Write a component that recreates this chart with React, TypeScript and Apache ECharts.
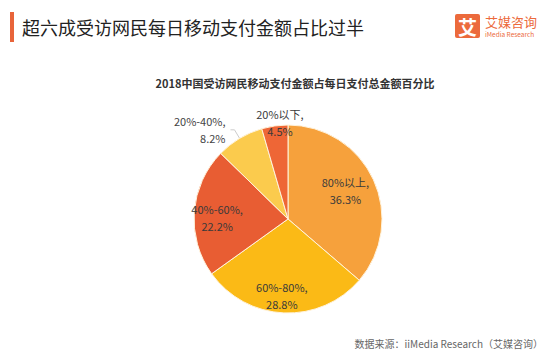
import React, { useEffect, useRef } from "react";
import * as echarts from "echarts";

const categories = ["80%以上", "60%-80%", "40%-60%", "20%-40%", "20%以下"];
const values = [36.3, 28.8, 22.2, 8.2, 4.5];
const colors = ["#F6A13C", "#FBBA16", "#E85D33", "#FBCB4D", "#EE6636"];
const title = "超六成受访网民每日移动支付金额占比过半";
const subtitle = "2018中国受访网民移动支付金额占每日支付总金额百分比";
const source = "数据来源：iiMedia Research（艾媒咨询）";

const labelShift: Record<number, [number, number]> = {
  0: [12, -8],
  1: [-4, 27],
  2: [-21, 2],
  4: [-1, -47],
};

export default function App() {
  const ref = useRef<HTMLDivElement>(null);
  useEffect(() => {
    const chart = echarts.init(ref.current!, null, { renderer: "svg" });
    const font = "'Noto Sans CJK SC', 'Noto Sans', sans-serif";
    chart.setOption({
      animation: false,
      backgroundColor: "#ffffff",
      textStyle: { fontFamily: font },
      graphic: [
        { type: "rect", shape: { x: 10, y: 12, width: 4, height: 30 }, style: { fill: "#E8643A" } },
        {
          type: "text",
          x: 22,
          y: 27,
          style: { text: title, fontSize: 18, fill: "#222", fontFamily: font, verticalAlign: "middle" },
        },
        { type: "rect", shape: { x: 455, y: 14, width: 25, height: 24, r: 2 }, style: { fill: "#EC6A3C" } },
        {
          type: "text",
          x: 467.5,
          y: 26.5,
          style: { text: "艾", fontSize: 19, fontWeight: "bold", fill: "#fff", fontFamily: font, align: "center", verticalAlign: "middle" },
        },
        {
          type: "text",
          x: 485,
          y: 21,
          style: { text: "艾媒咨询", fontSize: 13, fill: "#EC6A3C", fontFamily: font, verticalAlign: "middle" },
        },
        {
          type: "text",
          x: 485,
          y: 34,
          style: { text: "iMedia Research", fontSize: 6.5, fill: "#EC6A3C", fontFamily: font, verticalAlign: "middle" },
        },
        {
          type: "text",
          x: 295,
          y: 83,
          style: { text: subtitle, fontSize: 11, fontWeight: "bold", fill: "#333", fontFamily: font, align: "center", verticalAlign: "middle" },
        },
        {
          type: "text",
          x: 543,
          y: 343,
          style: { text: source, fontSize: 10, fill: "#666", fontFamily: font, align: "right", verticalAlign: "middle" },
        },
      ],
      series: [
        {
          type: "pie",
          center: [288, 219],
          radius: [0, 94],
          startAngle: 90,
          clockwise: true,
          itemStyle: { borderColor: "#FFF3DC", borderWidth: 1 },
          label: {
            show: true,
            position: "inside",
            formatter: (p: any) => `${p.name},\n${p.value}%`,
            fontSize: 11,
            lineHeight: 17,
            color: "#3a3a3a",
            align: "center",
            fontFamily: font,
          },
          labelLayout: (params: any) => {
            const s = labelShift[params.dataIndex];
            if (!s) return {};
            return { dx: s[0], dy: s[1] };
          },
          data: categories.map((name, i) => {
            const item: any = { name, value: values[i], itemStyle: { color: colors[i] } };
            if (i === 3) {
              item.label = { position: "outside", align: "center", color: "#444" };
              item.labelLine = { show: true, length: 10, length2: 4, lineStyle: { color: "#ccc", width: 1 } };
            }
            return item;
          }),
        },
      ],
    });
    return () => chart.dispose();
  }, []);
  return <div ref={ref} style={{ position: "fixed", left: 0, top: 0, width: 548, height: 355 }} />;
}
